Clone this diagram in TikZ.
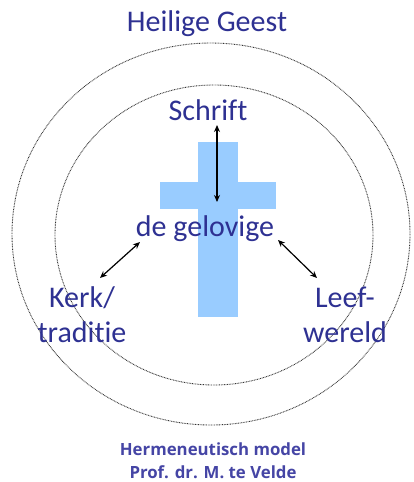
\documentclass[tikz,border=0pt]{standalone}
\usepackage{fontspec}
\usetikzlibrary{arrows.meta}
\setmainfont{Carlito}[Ligatures={NoCommon}]
\newfontfamily\smallfont{Open Sans}
\definecolor{txtblue}{HTML}{2E3192}
\definecolor{smallblue}{HTML}{4545A5}
\definecolor{crossblue}{HTML}{99CCFF}
\begin{document}
\begin{tikzpicture}[x=1pt,y=-1pt,
  ring/.style={draw=black!80,line width=0.9pt,dash pattern=on 0.8pt off 0.8pt},
  lab/.style={text=txtblue,font=\fontsize{30}{35}\selectfont,align=center,inner sep=0pt},
  small/.style={text=smallblue,font=\smallfont\bfseries\fontsize{16.8}{23}\selectfont,align=center,inner sep=0pt},
  dbl/.style={<->,>={Stealth[length=7pt,width=6pt]},line width=1.2pt,black}]
\useasboundingbox (0,0) rectangle (414,482);
% rings
\draw[ring] (211,234) ellipse [x radius=199, y radius=191];
\draw[ring] (214,235) ellipse [x radius=159, y radius=150];
% cross
\fill[crossblue] (198,142) rectangle (238,317);
\fill[crossblue] (160,182) rectangle (276,209);
% labels
\node[lab] (hg) at (207,24) {Heilige Geest};
\node[lab] (schrift) at (208,110) {Schrift};
\node[lab] (gel) at (205,229) {de gelovige};
\node[lab] (kerk) at (82,315) {Kerk/\\traditie};
\node[lab] (leef) at (345,315) {Leef-\\wereld};
\node[small] (herm) at (213,461) {Hermeneutisch model\\Prof. dr. M. te Velde};
% arrow ends
\coordinate (sT) at (217,125);
\coordinate (sB) at (217,202);
\coordinate (lA) at (140,242);
\coordinate (lB) at (100,278);
\coordinate (rA) at (278,240);
\coordinate (rB) at (317,278);
\draw[dbl] (sT) -- (sB);
\draw[dbl] (lA) -- (lB);
\draw[dbl] (rA) -- (rB);
\end{tikzpicture}
\end{document}
